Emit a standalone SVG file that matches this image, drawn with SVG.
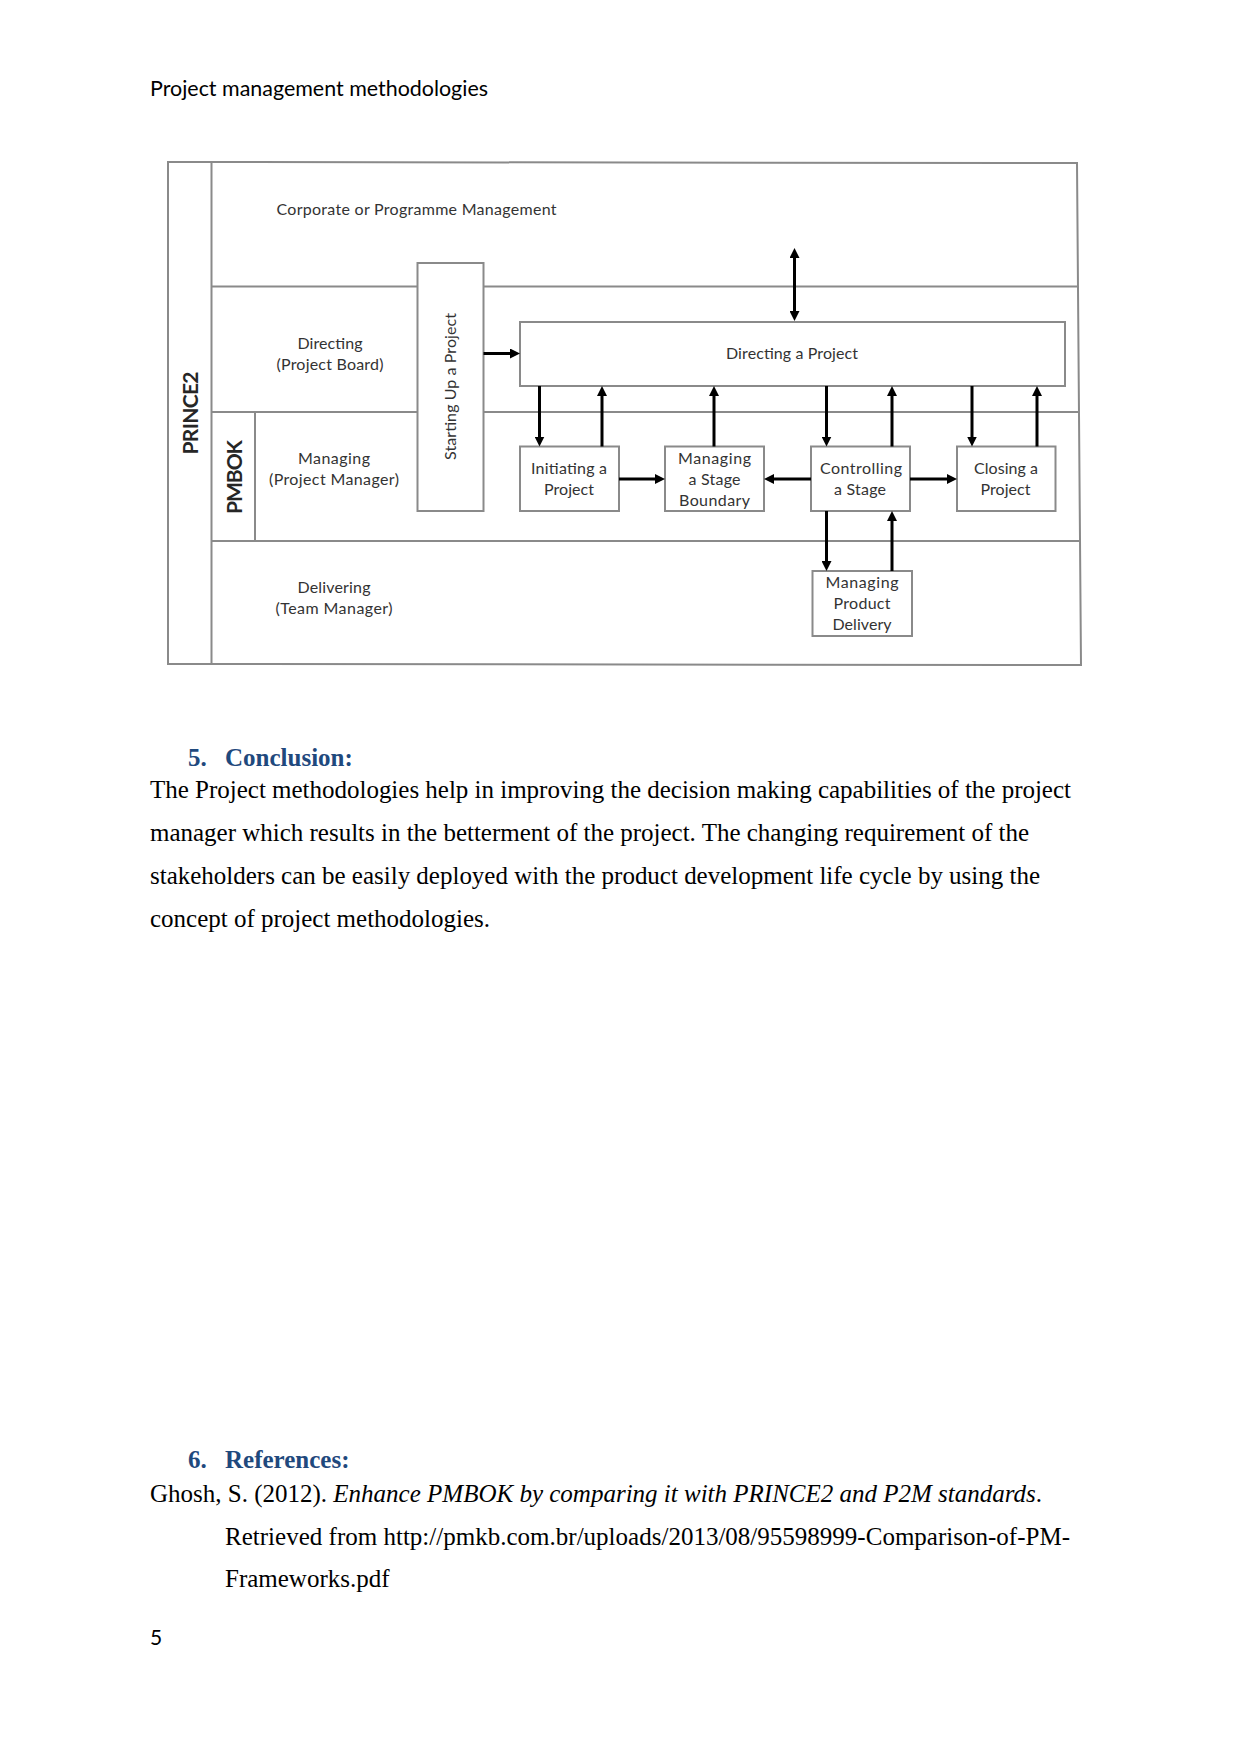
<svg xmlns="http://www.w3.org/2000/svg" width="1241" height="1754" viewBox="0 0 1241 1754">
<style>
.bg{fill:#ffffff}
.lane{fill:none;stroke:#8a8a8a;stroke-width:2}
.box{fill:#ffffff;stroke:#8a8a8a;stroke-width:2}
.dt{font-family:Lato,"Liberation Sans",sans-serif;font-size:16px;fill:#333333;text-anchor:middle}
.dtl{font-family:Lato,"Liberation Sans",sans-serif;font-size:16px;fill:#333333}
.vb{font-family:Lato,"Liberation Sans",sans-serif;font-size:21px;font-weight:bold;fill:#262626;text-anchor:middle}
.arr{fill:none;stroke:#000000;stroke-width:3}
.hdr{font-family:Lato,"Liberation Sans",sans-serif;font-size:21px;fill:#000000}
.body{font-family:"Liberation Serif","Times New Roman",serif;font-size:25px;fill:#000000}
.h{font-family:"Liberation Serif","Times New Roman",serif;font-size:25px;font-weight:bold;fill:#1F497D}
</style>
<defs>
<marker id="ah" viewBox="0 0 10 10" refX="1" refY="5" markerWidth="10" markerHeight="10" markerUnits="userSpaceOnUse" orient="auto-start-reverse">
<path d="M0,0 L10,5 L0,10 z" fill="#000000"/>
</marker>
</defs>
<rect class="bg" x="0" y="0" width="1241" height="1754"/>

<text class="hdr" x="150" y="96" textLength="338" lengthAdjust="spacingAndGlyphs">Project management methodologies</text>

<g id="lanes">
<path class="lane" d="M168,162 L1077,163 L1081,665 L168,664 Z"/>
<line class="lane" x1="211.5" y1="162" x2="211.5" y2="664"/>
<line class="lane" x1="211.5" y1="286.5" x2="1077.5" y2="286.5"/>
<line class="lane" x1="211.5" y1="412" x2="1078.5" y2="412"/>
<line class="lane" x1="255" y1="412" x2="255" y2="541"/>
<line class="lane" x1="211.5" y1="541" x2="1080" y2="541"/>
</g>

<g id="lane-prince2">
<text class="vb" transform="translate(190,413) rotate(-90)" x="0" y="7.5" textLength="83">PRINCE2</text>
</g>
<g id="lane-pmbok">
<text class="vb" transform="translate(234,477) rotate(-90)" x="0" y="7.5" textLength="74">PMBOK</text>
</g>
<g id="lane-corporate">
<text class="dtl" x="276.5" y="215" textLength="280">Corporate or Programme Management</text>
</g>
<g id="lane-directing">
<text class="dt" x="330" y="349" textLength="65">Directing</text>
<text class="dt" x="330" y="370" textLength="107">(Project Board)</text>
</g>
<g id="lane-managing">
<text class="dt" x="334" y="464" textLength="72">Managing</text>
<text class="dt" x="334" y="485" textLength="130">(Project Manager)</text>
</g>
<g id="lane-delivering">
<text class="dt" x="334" y="593" textLength="73">Delivering</text>
<text class="dt" x="334" y="614" textLength="117">(Team Manager)</text>
</g>

<g id="starting-up">
<rect class="box" x="417.5" y="263" width="66" height="248"/>
<text class="dt" transform="translate(450,386.5) rotate(-90)" x="0" y="5.5" textLength="147">Starting Up a Project</text>
</g>
<g id="directing-project">
<rect class="box" x="520" y="322" width="545" height="64"/>
<text class="dt" x="792" y="358.5" textLength="132">Directing a Project</text>
</g>
<g id="initiating">
<rect class="box" x="520" y="446.5" width="99" height="64.5"/>
<text class="dt" x="569" y="474" textLength="76">Initiating a</text>
<text class="dt" x="569" y="495" textLength="50">Project</text>
</g>
<g id="stage-boundary">
<rect class="box" x="665" y="446.5" width="99" height="64.5"/>
<text class="dt" x="714.5" y="464" textLength="73">Managing</text>
<text class="dt" x="714.5" y="485" textLength="52">a Stage</text>
<text class="dt" x="714.5" y="506" textLength="71">Boundary</text>
</g>
<g id="controlling">
<rect class="box" x="811" y="446.5" width="99" height="64.5"/>
<text class="dt" x="861" y="474" textLength="82">Controlling</text>
<text class="dt" x="860" y="495" textLength="52">a Stage</text>
</g>
<g id="closing">
<rect class="box" x="957" y="446.5" width="98.5" height="64.5"/>
<text class="dt" x="1006" y="474" textLength="64">Closing a</text>
<text class="dt" x="1005.5" y="495" textLength="50">Project</text>
</g>
<g id="product-delivery">
<rect class="box" x="812.5" y="571" width="99.5" height="65"/>
<text class="dt" x="862" y="588" textLength="73">Managing</text>
<text class="dt" x="862" y="609" textLength="57">Product</text>
<text class="dt" x="862" y="630" textLength="59">Delivery</text>
</g>

<g id="connectors">
<line class="arr" x1="794.5" y1="257" x2="794.5" y2="312" marker-start="url(#ah)" marker-end="url(#ah)"/>
<line class="arr" x1="483.5" y1="353.5" x2="511" y2="353.5" marker-end="url(#ah)"/>
<line class="arr" x1="539.5" y1="386" x2="539.5" y2="437.5" marker-end="url(#ah)"/>
<line class="arr" x1="602" y1="446.5" x2="602" y2="395" marker-end="url(#ah)"/>
<line class="arr" x1="714" y1="446.5" x2="714" y2="395" marker-end="url(#ah)"/>
<line class="arr" x1="826.5" y1="386" x2="826.5" y2="437.5" marker-end="url(#ah)"/>
<line class="arr" x1="892" y1="446.5" x2="892" y2="395" marker-end="url(#ah)"/>
<line class="arr" x1="972" y1="386" x2="972" y2="437.5" marker-end="url(#ah)"/>
<line class="arr" x1="1037" y1="446.5" x2="1037" y2="395" marker-end="url(#ah)"/>
<line class="arr" x1="619" y1="479" x2="656" y2="479" marker-end="url(#ah)"/>
<line class="arr" x1="811" y1="479" x2="773" y2="479" marker-end="url(#ah)"/>
<line class="arr" x1="910" y1="479" x2="948" y2="479" marker-end="url(#ah)"/>
<line class="arr" x1="826.5" y1="511" x2="826.5" y2="562" marker-end="url(#ah)"/>
<line class="arr" x1="892" y1="571" x2="892" y2="520" marker-end="url(#ah)"/>
</g>

<text class="h" x="188" y="766">5.</text>
<text class="h" x="225" y="766">Conclusion:</text>
<text class="body" x="150" y="798" textLength="921">The Project methodologies help in improving the decision making capabilities of the project</text>
<text class="body" x="150" y="841" textLength="879">manager which results in the betterment of the project. The changing requirement of the</text>
<text class="body" x="150" y="884" textLength="890">stakeholders can be easily deployed with the product development life cycle by using the</text>
<text class="body" x="150" y="927" textLength="340">concept of project methodologies.</text>

<text class="h" x="188" y="1468">6.</text>
<text class="h" x="225" y="1468">References:</text>
<text class="body" x="150" y="1502">Ghosh, S. (2012). <tspan font-style="italic">Enhance PMBOK by comparing it with PRINCE2 and P2M standards</tspan>.</text>
<text class="body" x="225" y="1545" textLength="845">Retrieved from http://pmkb.com.br/uploads/2013/08/95598999-Comparison-of-PM-</text>
<text class="body" x="225" y="1587">Frameworks.pdf</text>

<text class="hdr" x="150" y="1645">5</text>
</svg>
